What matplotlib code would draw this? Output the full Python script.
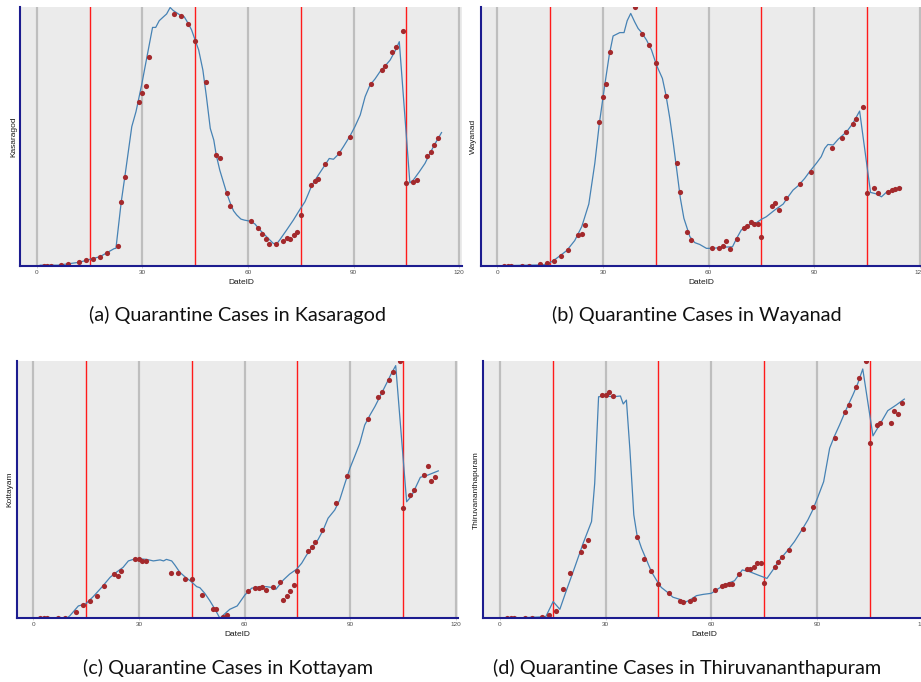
import matplotlib
matplotlib.use("Agg")
import matplotlib.pyplot as plt

# days with observed counts (same in every district)
obs_days = [2, 3, 4, 7, 9, 12, 14, 16, 18, 20, 23, 24, 25, 29, 30, 31, 32, 39, 41, 43,
            45, 48, 51, 52, 54, 55, 61, 63, 64, 65, 66, 68, 70, 71, 72, 73, 74, 75, 78, 79,
            80, 82, 86, 89, 95, 98, 99, 101, 102, 104, 105, 107, 108, 111, 112, 113, 114]

# observed values (scaled 0-100, axis has no numbers)
obs_kasaragod = [0, 0, 0, 0.3, 0.8, 1.3, 2.1, 2.6, 3.3, 5.0, 7.6, 24.6, 34.1, 63.3, 66.8, 69.4, 80.6, 97.0, 96.4, 93.3,
                 86.6, 71.0, 42.7, 41.4, 27.9, 23.2, 17.2, 14.5, 12.2, 10.3, 8.2, 8.5, 9.5, 10.8, 10.3, 12.0, 12.9, 19.4, 31.0, 32.8,
                 33.5, 39.4, 43.6, 49.8, 70.0, 75.5, 77.2, 82.4, 84.3, 90.6, 31.8, 32.4, 32.9, 42.5, 44.0, 46.6, 49.2]
obs_wayanad = [0, 0, 0, 0, 0, 0.5, 1.0, 1.8, 3.6, 6.2, 11.8, 12.4, 15.8, 55.6, 65.1, 70.1, 82.6, 99.7, 89.4, 85.1,
               78.4, 65.6, 39.8, 28.6, 13.1, 9.8, 7.0, 7.0, 7.5, 9.7, 6.6, 10.3, 14.4, 15.3, 16.7, 16.1, 16.1, 11.1, 23.2, 24.3,
               21.6, 26.1, 31.7, 36.2, 45.6, 49.4, 51.5, 54.8, 56.6, 61.4, 28.2, 29.9, 28.2, 28.6, 29.1, 29.5, 30.0]
obs_kottayam = [0, 0, 0, 0.3, 0.3, 2.3, 5.2, 6.9, 8.7, 12.7, 17.1, 16.5, 18.4, 23.1, 23.1, 22.4, 22.4, 17.5, 17.7, 15.4,
                15.4, 9.1, 3.8, 3.6, 0.4, 1.2, 10.8, 11.7, 11.9, 12.0, 11.0, 12.0, 14.0, 7.1, 8.7, 10.8, 12.8, 18.5, 26.0, 27.7,
                29.8, 34.2, 44.9, 55.3, 77.5, 85.9, 87.8, 92.7, 95.6, 100.1, 43.0, 47.8, 49.7, 55.6, 59.2, 53.5, 54.8]
obs_tvm = [0, 0, 0, 0, 0, 0.5, 1.2, 2.8, 11.3, 17.5, 25.9, 28.0, 30.4, 86.8, 86.8, 88.0, 86.3, 31.6, 23.2, 18.3,
           13.5, 10.0, 6.9, 6.5, 6.9, 7.4, 11.0, 12.7, 13.0, 13.2, 13.5, 17.1, 19.2, 19.2, 20.1, 21.4, 21.6, 13.6, 20.1, 22.0,
           24.0, 26.6, 34.6, 43.1, 70.2, 80.3, 82.9, 89.8, 93.3, 100.1, 68.1, 75.0, 76.0, 76.0, 80.7, 79.4, 83.5]

# fitted curves (day, value)
fit_days_a = [1, 6, 12, 18, 22, 22.5, 24, 25, 27, 28.2, 29.8, 31.5, 32.9, 33.8, 34.8, 36, 36.9, 37.9, 38.8, 40.7,
              41.9, 43, 44, 45, 46, 47.2, 48.2, 49.3, 50.3, 51, 52, 54, 55, 55.9, 56.8, 58, 59, 60.6, 62, 63.4,
              65.3, 67.2, 68.2, 69, 71, 72.9, 74.8, 76.2, 77.2, 78.1, 80, 81.9, 83.1, 84.3, 85.7, 87.1, 89, 90.4, 91.9, 93.3,
              94.7, 96.1, 97.5, 99.2, 100.4, 101.8, 103, 106, 107, 108.7, 110.3, 111.7, 113.2, 115]
fit_kasaragod = [0.2, 0.2, 1.3, 3.5, 6.6, 6.7, 24.6, 34.1, 53.7, 59.5, 69.8, 82.0, 92.0, 92.0, 94.6, 96.1, 97.2, 99.7, 98.5, 96.8,
                 96.1, 93.6, 91.0, 87.1, 83.3, 75.5, 65.3, 53.0, 48.5, 42.7, 36.9, 27.9, 24.1, 21.2, 19.6, 18.0, 17.6, 17.2, 16.1, 13.8,
                 11.2, 8.6, 8.5, 9.9, 13.8, 17.6, 21.8, 24.7, 27.9, 30.9, 35.0, 38.9, 41.4, 41.1, 43.0, 45.9, 50.1, 53.7, 58.2, 65.3,
                 69.8, 72.1, 74.9, 77.5, 79.4, 82.9, 86.5, 32.0, 33.1, 36.3, 39.5, 43.4, 47.2, 51.4]

fit_days_b = [1, 13, 15, 16.8, 19.7, 22, 24, 26, 27.7, 29, 30.6, 31.8, 32.9, 34.8, 36, 36.9, 37.9, 39, 40, 41,
              42.4, 43.8, 45.2, 46.9, 47.9, 49, 50, 51.1, 52, 53, 54.7, 56.1, 57.5, 59.4, 61.3, 63.7, 65.1, 66.8, 68, 69.3,
              70.8, 72.2, 73.6, 75, 76.4, 78.8, 81.2, 82.6, 84, 85.4, 87.3, 88.7, 90.6, 92, 93, 93.9, 95.4, 96.8, 99.2, 101,
              102.9, 106, 107.7, 109.1, 110.7, 112.4, 114.8]
fit_wayanad = [0, 0.3, 1.2, 2.8, 5.8, 9.7, 15.1, 23.8, 39.5, 55.0, 70.4, 81.3, 88.7, 90.0, 90.0, 94.6, 97.4, 94.2, 91.6, 90.0,
               87.1, 83.3, 77.5, 72.3, 65.9, 56.9, 47.2, 35.6, 26.0, 18.3, 11.2, 8.9, 8.2, 6.7, 6.7, 7.1, 7.2, 7.3, 10.6, 13.8,
               15.1, 16.3, 16.6, 17.9, 18.9, 21.5, 23.8, 26.6, 29.2, 30.8, 33.7, 36.3, 39.5, 42.1, 45.3, 46.8, 46.6, 48.8, 51.7, 55.0,
               59.7, 28.3, 27.7, 26.6, 28.6, 29.2, 30.1]

fit_days_c = [2, 9.5, 10.4, 12.8, 14.9, 17, 19.4, 21.8, 23.2, 25.5, 27, 28.4, 30.3, 32.2, 34.1, 36, 37, 37.8, 39.3, 40.2,
              41.6, 43, 44.9, 46.4, 47.3, 48.7, 50.1, 51.6, 53, 54, 55.8, 57.9, 60.1, 62, 64.3, 66.2, 67.6, 68.9, 71, 72.8,
              74.7, 76.2, 77.6, 79, 80.9, 82.3, 83.7, 85.6, 87, 88.5, 89.9, 91.3, 92.7, 94.1, 95.6, 97, 98.4, 100.3, 101.7, 102.9,
              106, 107.4, 109.9, 112.1, 115]
fit_kottayam = [0, 0, 1.0, 4.8, 5.6, 8.4, 12.0, 15.9, 17.5, 19.8, 22.3, 22.9, 23.1, 22.9, 22.3, 22.7, 22.3, 22.9, 22.3, 20.7,
                17.9, 16.2, 14.2, 12.3, 11.9, 9.7, 6.9, 3.5, 0, 1.3, 3.5, 4.8, 9.1, 11.7, 12.3, 12.3, 12.0, 11.3, 14.9, 17.2,
                19.0, 21.4, 24.6, 27.2, 30.7, 34.3, 38.9, 42.1, 46.0, 52.5, 58.3, 63.1, 68.0, 75.1, 79.0, 82.3, 86.1, 91.3, 95.2, 98.2,
                45.3, 47.5, 54.8, 55.7, 57.3]

fit_days_d = [2, 13, 15.1, 17, 18.9, 21.3, 23.6, 26, 26.9, 28, 30.2, 32.1, 34.2, 35, 35.9, 36.9, 38, 38.9, 40.2, 41.6,
              43, 44.4, 45.8, 47.3, 49.1, 51, 52.5, 53.9, 55.8, 57.7, 60, 61.4, 62.9, 64.7, 66.6, 68.8, 70.9, 73.3, 75.8, 77.5,
              79.4, 81.8, 83.6, 86, 87.4, 88.8, 90.3, 91.9, 93.6, 95, 96.4, 98.3, 100.2, 101.6, 103, 105.9, 107.9, 110.1, 112.5, 114.8]
fit_tvm = [0, 0.6, 6.5, 3.5, 11.0, 20.1, 29.1, 37.6, 52.5, 86.1, 86.4, 86.1, 86.4, 83.3, 84.8, 65.4, 40.2, 32.4, 27.2, 22.7,
           18.1, 14.9, 12.0, 10.4, 8.2, 7.4, 6.2, 7.1, 8.8, 9.3, 9.7, 11.0, 12.3, 13.6, 14.6, 18.8, 18.1, 16.8, 15.5, 18.8,
           22.7, 26.6, 29.8, 35.0, 38.2, 42.1, 47.3, 53.1, 66.1, 70.9, 75.1, 81.2, 86.8, 91.3, 96.9, 70.9, 75.5, 80.7, 82.9, 85.2]

phase_days = [15, 45, 75, 105]
grid_days = [0, 30, 60, 90, 120]
districts = ["Kasaragod", "Wayanad", "Kottayam", "Thiruvananthapuram"]
captions = ["(a) Quarantine Cases in Kasaragod", "(b) Quarantine Cases in Wayanad",
            "(c) Quarantine Cases in Kottayam", "(d) Quarantine Cases in Thiruvananthapuram"]

W, H = 921, 682
fig = plt.figure(figsize=(W / 100, H / 100), dpi=100)

# panel boxes in pixels: left, top, right, bottom
boxes = [(20.2, 6.7, 461.6, 265.7), (480.7, 6.7, 922.3, 265.7),
         (16.7, 361, 458.4, 618.3), (483.4, 361, 925.1, 618.3)]
fits = [(fit_days_a, fit_kasaragod), (fit_days_b, fit_wayanad),
        (fit_days_c, fit_kottayam), (fit_days_d, fit_tvm)]
obs = [obs_kasaragod, obs_wayanad, obs_kottayam, obs_tvm]

for i in range(4):
    l, t, r, b = boxes[i]
    ax = fig.add_axes([l / W, 1 - b / H, (r - l) / W, (b - t) / H])
    ax.set_facecolor("#EBEBEB")
    ax.set_xlim(-4.7, 120.7)
    ax.set_ylim(0, 100)
    for g in grid_days:
        ax.axvline(g, color="#BEBEBE", lw=1.6, zorder=1)
    for p in phase_days:
        ax.axvline(p, color="#FF1A1A", lw=1.0, zorder=2)
    ax.plot(fits[i][0], fits[i][1], color="#4682B4", lw=0.9, zorder=3)
    ax.scatter(obs_days, obs[i], s=14, color="#A3292C", linewidths=0, zorder=4)

    ax.set_xticks(grid_days)
    ax.set_yticks([])
    ax.tick_params(axis="x", length=1.5, width=0.5, color="#BEBEBE", pad=1.5,
                   labelsize=4.6, labelcolor="#4D4D4D")
    for lab in ax.get_xticklabels():
        lab.set_family("Liberation Sans")
    for side in ["top", "right"]:
        ax.spines[side].set_visible(False)
    for side in ["left", "bottom"]:
        ax.spines[side].set_color("#1C1C8F")
        ax.spines[side].set_linewidth(1.5)
        ax.spines[side].set_zorder(5)

    ax.set_xlabel("DateID", fontsize=6, family="Liberation Sans", color="#1A1A1A", va="center")
    ax.xaxis.set_label_coords(0.5, -16.3 / (b - t))
    ax.set_ylabel(districts[i], fontsize=6, family="Liberation Sans", color="#1A1A1A", va="center")
    ax.yaxis.set_label_coords(-6.8 / (r - l), 0.5)

# subfigure captions
cap_font = dict(fontsize=14.3, family="Lato", color="#111111", va="baseline")
fig.text(386 / W, 1 - 321 / H, captions[0], ha="right", **cap_font)
fig.text(551.7 / W, 1 - 321 / H, captions[1], ha="left", **cap_font)
fig.text(373 / W, 1 - 674 / H, captions[2], ha="right", **cap_font)
fig.text(493.3 / W, 1 - 674 / H, captions[3], ha="left", **cap_font)

fig.savefig("out.png", dpi=100)
